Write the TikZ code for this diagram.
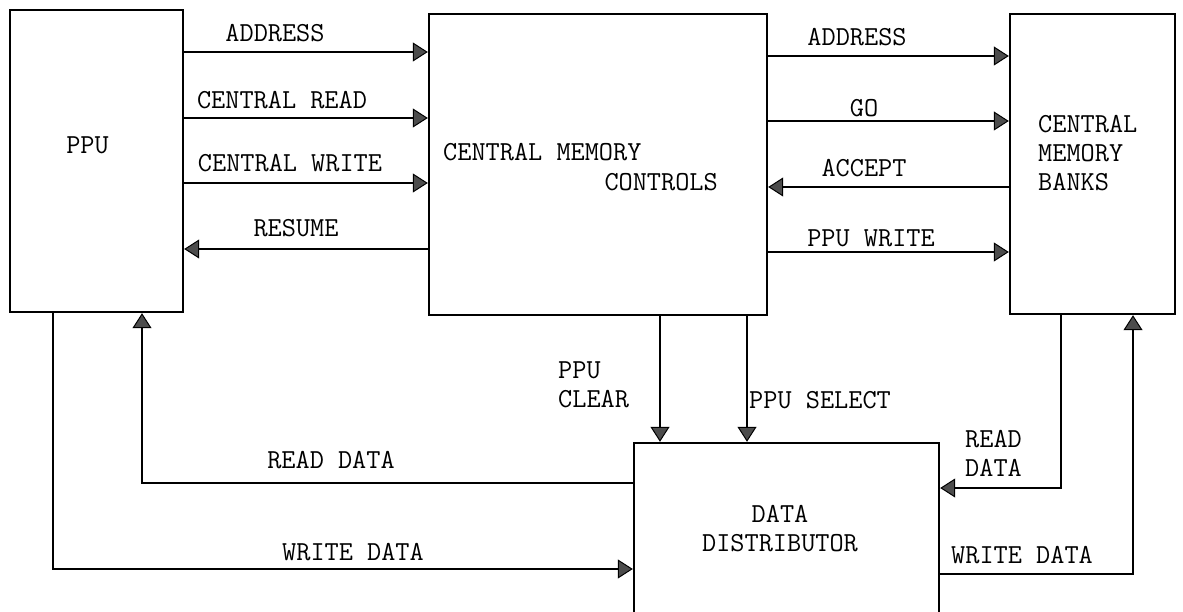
\documentclass[tikz,border=0pt]{standalone}
\usetikzlibrary{arrows.meta,calc}
\begin{document}
\begin{tikzpicture}[x=1pt,y=-1pt,
  box/.style={draw,line width=2.4pt,inner sep=0pt,rectangle},
  arr/.style={line width=2.4pt,-{Triangle[length=15pt,width=19pt,fill=black!70,line width=1pt]}},
  lbl/.style={font=\fontsize{27.5}{29}\selectfont\ttfamily,inner sep=0pt,align=left}]
\useasboundingbox (0,0) rectangle (1183,612);
\clip (0,0) rectangle (1183,612);
% boxes
\node[box,minimum width=173pt,minimum height=302pt] (PPU) at (96.5,161) {};
\node[box,minimum width=338pt,minimum height=301pt] (CMC) at (598,164.5) {};
\node[box,minimum width=165pt,minimum height=300pt] (CMB) at (1092.5,164) {};
\node[box,minimum width=305pt,minimum height=207pt] (DD) at (786.5,546.5) {};
% box texts
\node[lbl] (tPPU) at (87.5,145) {PPU};
\node[lbl,anchor=west] (tCMC1) at (443,152) {CENTRAL MEMORY};
\node[lbl,anchor=east] (tCMC2) at (718,182) {CONTROLS};
\node[lbl,anchor=west] (tCMB) at (1038,153) {CENTRAL\\MEMORY\\BANKS};
\node[lbl,align=center] (tDD) at (780,529) {DATA\\DISTRIBUTOR};
% PPU <-> CMC
\draw[arr] (PPU.east |- 0,52) -- (CMC.west |- 0,52);
\draw[arr] (PPU.east |- 0,118) -- (CMC.west |- 0,118);
\draw[arr] (PPU.east |- 0,183) -- (CMC.west |- 0,183);
\draw[arr] (CMC.west |- 0,249) -- (PPU.east |- 0,249);
\node[lbl] (lA1) at (275,33) {ADDRESS};
\node[lbl] (lCR) at (282,100) {CENTRAL READ};
\node[lbl] (lCW) at (290,163) {CENTRAL WRITE};
\node[lbl] (lRS) at (296,228) {RESUME};
% CMC <-> CMB
\draw[arr] (CMC.east |- 0,56) -- (CMB.west |- 0,56);
\draw[arr] (CMC.east |- 0,121) -- (CMB.west |- 0,121);
\draw[arr] (CMB.west |- 0,187) -- (CMC.east |- 0,187);
\draw[arr] (CMC.east |- 0,252) -- (CMB.west |- 0,252);
\node[lbl] (lA2) at (857,37) {ADDRESS};
\node[lbl] (lGO) at (864,108) {GO};
\node[lbl] (lAC) at (864,168) {ACCEPT};
\node[lbl] (lPW) at (871,238) {PPU WRITE};
% CMC -> DD
\draw[arr] (CMC.south -| 660,0) -- (DD.north -| 660,0);
\draw[arr] (CMC.south -| 747,0) -- (DD.north -| 747,0);
\node[lbl,anchor=west] (lPC) at (558,385) {PPU\\CLEAR};
\node[lbl,anchor=west] (lPS) at (749,400) {PPU SELECT};
% DD <-> PPU
\draw[arr] (DD.west |- 0,483) -| (PPU.south -| 142,0);
\draw[arr] (PPU.south -| 53,0) |- (DD.west |- 0,569);
\node[lbl] (lRD1) at (331,460) {READ DATA};
\node[lbl] (lWD1) at (353,552) {WRITE DATA};
% DD <-> CMB
\draw[arr] (CMB.south -| 1061,0) |- (DD.east |- 0,488);
\draw[arr] (DD.east |- 0,574) -| (CMB.south -| 1133,0);
\node[lbl,anchor=west] (lRD2) at (965,453) {READ\\DATA};
\node[lbl] (lWD2) at (1022,555) {WRITE DATA};
\end{tikzpicture}
\end{document}
